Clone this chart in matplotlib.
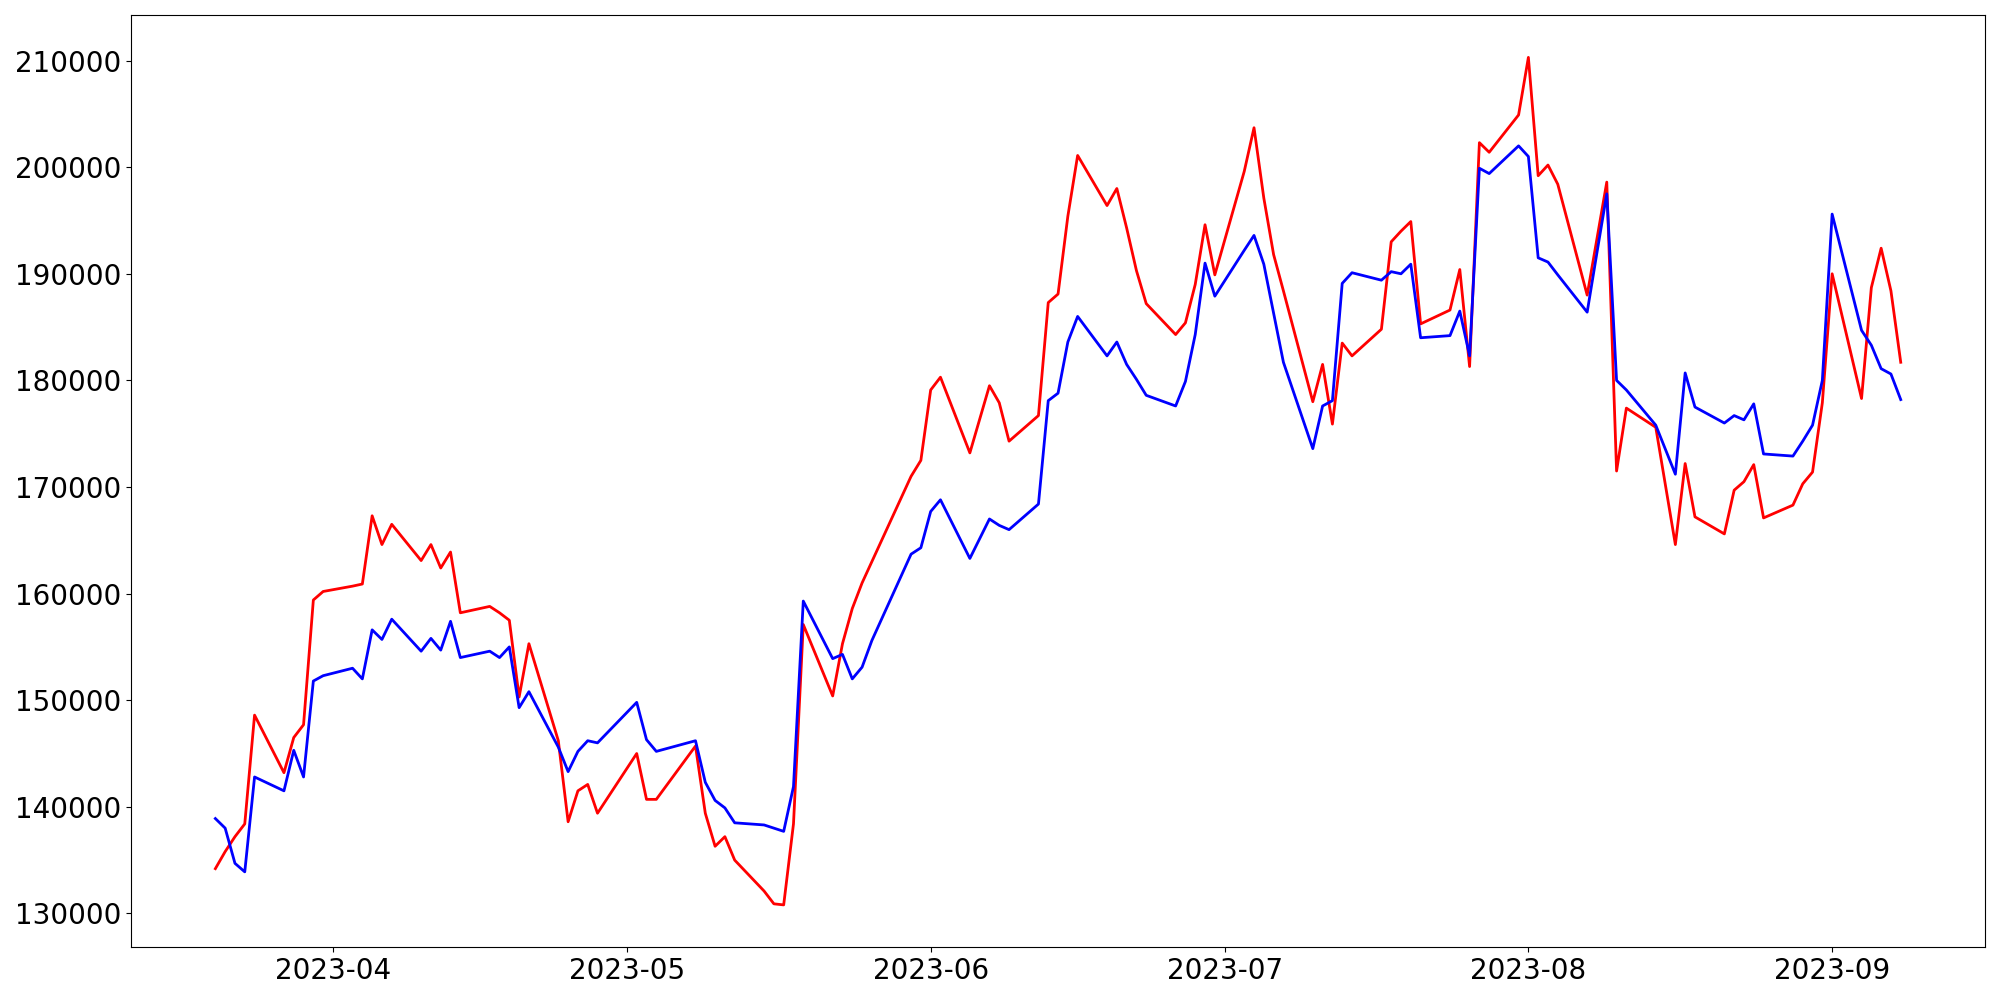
import matplotlib
matplotlib.use("Agg")
import matplotlib.pyplot as plt
import pandas as pd

# KRX trading days between 2023-03-20 and 2023-09-08
START = "2023-03-20"
END = "2023-09-08"
HOLIDAYS = ["2023-05-01", "2023-05-05", "2023-05-29", "2023-06-06", "2023-08-15"]

red_values = [
    # Mar
    134200, 135800, 137200, 138400, 148600, 143200, 146500, 147700, 159400, 160200,
    # Apr
    160700, 160900, 167300, 164600, 166500, 163100, 164600, 162400, 163900, 158200,
    158800, 158200, 157500, 150300, 155300, 146200, 138600, 141500, 142100, 139400,
    # May
    145000, 140700, 140700, 145700, 139400, 136300, 137200, 135000, 132100, 130900,
    130800, 138400, 157100, 150400, 155300, 158600, 161000, 163000, 171000, 172500,
    # Jun
    179100, 180300, 173200, 179500, 177900, 174300, 176700, 187300, 188100, 195400,
    201100, 196400, 198000, 194300, 190300, 187200, 184300, 185400, 189000, 194600,
    189900,
    # Jul
    199600, 203700, 197100, 191800, 188400, 178000, 181500, 175900, 183500, 182300,
    184800, 193000, 194000, 194900, 185300, 186600, 190400, 181300, 202300, 201400,
    204900,
    # Aug
    210300, 199200, 200200, 198400, 188000, 193300, 198600, 171500, 177400, 175600,
    164600, 172200, 167200, 165600, 169700, 170500, 172100, 167100, 168300, 170300,
    171400, 177900,
    # Sep
    190000, 178300, 188700, 192400, 188400, 181700,
]

blue_values = [
    # Mar
    138900, 138000, 134700, 133900, 142800, 141500, 145300, 142800, 151800, 152300,
    # Apr
    153000, 152000, 156600, 155700, 157600, 154600, 155800, 154700, 157400, 154000,
    154600, 154000, 155000, 149300, 150800, 145600, 143300, 145200, 146200, 146000,
    # May
    149800, 146300, 145200, 146200, 142300, 140600, 139900, 138500, 138300, 138000,
    137700, 141900, 159300, 153900, 154300, 152000, 153100, 155600, 163700, 164300,
    # Jun
    167700, 168800, 163300, 167000, 166400, 166000, 168400, 178100, 178800, 183600,
    186000, 182300, 183600, 181500, 180100, 178600, 177600, 179900, 184300, 191000,
    187900,
    # Jul
    192200, 193600, 190900, 186300, 181700, 173600, 177600, 178100, 189100, 190100,
    189400, 190200, 190000, 190900, 184000, 184200, 186500, 182300, 199900, 199400,
    202000,
    # Aug
    201000, 191500, 191100, 189900, 186400, 192000, 197500, 180000, 179100, 175800,
    171200, 180700, 177500, 176000, 176700, 176300, 177800, 173100, 172900, 174300,
    175800, 180000,
    # Sep
    195600, 184700, 183300, 181100, 180600, 178200,
]


def main():
    dates = pd.bdate_range(START, END, freq="C", holidays=HOLIDAYS)

    fig, ax = plt.subplots(figsize=(20, 10), dpi=100)
    ax.plot(dates, red_values, color="red", linewidth=2)
    ax.plot(dates, blue_values, color="blue", linewidth=2)
    ax.tick_params(axis="both", labelsize=20)

    fig.tight_layout()
    fig.savefig("out.png", dpi=100)
    plt.close(fig)


if __name__ == "__main__":
    main()
